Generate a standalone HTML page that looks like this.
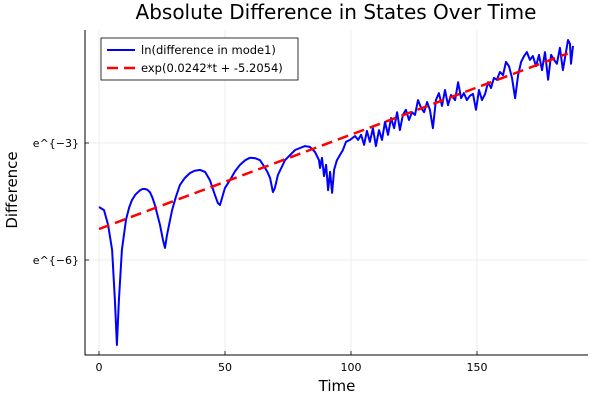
<!DOCTYPE html>
<html><head><meta charset="utf-8"><style>
html,body{margin:0;padding:0;background:#fff}
svg{display:block;font-family:"DejaVu Sans","Liberation Sans",sans-serif}
</style></head><body>
<svg id="chart" width="600" height="400">
<text x="336" y="19" text-anchor="middle" font-size="20" fill="#000">Absolute Difference in States Over Time</text>
<text x="337" y="391" text-anchor="middle" font-size="15">Time</text>
<text transform="translate(17,190) rotate(-90)" text-anchor="middle" font-size="15">Difference</text>
<g id="grid"></g><g id="axes"></g><g id="series"></g>
<g>
<rect x="101" y="38" width="197" height="42" fill="#fff" stroke="#000" stroke-width="0.8"/>
<line x1="107" y1="50" x2="135" y2="50" stroke="#0000ff" stroke-width="2"/>
<text x="141" y="54" font-size="11.5">ln(difference in mode1)</text>
<line x1="107" y1="68" x2="135" y2="68" stroke="#ff0000" stroke-width="2.5" stroke-dasharray="11,6"/>
<text x="141" y="72" font-size="11.5">exp(0.0242*t + -5.2054)</text>
</g>
</svg>
<script>
const xTicks=[0,50,100,150];
const yTicks=[-3,-6];
const yTickLabels=["e^{−3}","e^{−6}"];
const fitSlope=0.0242, fitIntercept=-5.2054, fitRange=[0,186];
const tVals=[0,2.0,3.6,5.2,6.3,7.1,7.9,9.1,10.7,12.0,13.1,14.5,16.3,17.3,18.3,19.2,20.2,21.2,22.2,24.2,25.4,26.2,27.0,29.0,30.5,32.1,34.0,36.1,38.0,40.1,42.1,44.0,44.9,46.0,47.2,48.0,48.8,50.0,52.0,54.0,56.0,58.0,59.9,62.0,63.9,65.9,66.9,67.9,69.0,69.8,71.0,73.8,77.8,81.7,83.7,85.7,87.3,87.7,88.5,89.3,90.1,90.9,91.7,92.5,93.3,94.4,95.6,96.8,98.0,99.6,101.6,102.8,104.0,105.2,106.3,107.5,108.7,109.9,111.1,112.3,113.5,114.7,115.9,117.1,118.3,119.4,120.6,121.8,123.0,124.2,125.4,126.6,127.8,129.0,130.2,131.3,132.5,133.7,134.9,136.1,137.3,138.5,139.7,141.3,142.5,143.7,144.8,146.0,147.2,148.4,149.6,150.8,152.0,153.2,154.4,155.6,156.7,157.9,159.1,160.3,161.5,162.7,163.9,165.1,166.3,167.5,168.7,169.8,171.0,172.2,173.4,174.6,175.8,177.0,178.2,179.4,180.6,181.7,182.9,184.1,185.3,186.1,186.9,187.3,188.1];
const logVals=[-4.64,-4.72,-5.10,-5.74,-7.03,-8.18,-7.03,-5.74,-4.97,-4.65,-4.46,-4.32,-4.21,-4.18,-4.18,-4.20,-4.26,-4.40,-4.59,-5.10,-5.49,-5.69,-5.36,-4.72,-4.38,-4.08,-3.90,-3.77,-3.71,-3.69,-3.74,-3.95,-4.12,-4.33,-4.54,-4.59,-4.41,-4.15,-3.95,-3.72,-3.56,-3.44,-3.38,-3.39,-3.44,-3.64,-3.75,-3.90,-4.26,-4.15,-3.82,-3.44,-3.18,-3.08,-3.10,-3.23,-3.44,-3.64,-3.38,-3.85,-3.56,-4.21,-3.74,-4.28,-3.69,-3.44,-3.31,-3.18,-2.97,-2.92,-2.82,-2.92,-2.79,-3.05,-2.69,-2.97,-2.62,-3.08,-2.67,-2.92,-2.46,-2.79,-2.36,-2.62,-2.21,-2.67,-2.28,-2.15,-2.41,-2.21,-2.28,-1.90,-2.10,-2.21,-1.95,-2.15,-2.62,-1.90,-1.72,-2.05,-1.64,-2.03,-1.77,-1.90,-1.44,-1.85,-1.72,-1.90,-1.79,-1.74,-2.15,-1.64,-1.90,-1.74,-1.44,-1.59,-1.33,-1.38,-1.18,-1.26,-0.92,-1.03,-1.33,-1.85,-1.26,-0.92,-0.77,-0.67,-0.87,-0.77,-1.03,-0.74,-1.13,-0.67,-1.38,-0.74,-0.87,-0.97,-0.56,-1.13,-0.67,-0.36,-0.46,-0.97,-0.51];
const NS="http://www.w3.org/2000/svg";
const L=85,R=588,T=30,B=355;
const sx=t=>99+t*2.52;
const sy=v=>143+(-3-v)*39;
function mk(tag,attrs,parent){const e=document.createElementNS(NS,tag);for(const k in attrs)e.setAttribute(k,attrs[k]);document.getElementById(parent).appendChild(e);return e;}
xTicks.forEach(t=>{
 const g=mk('line',{x1:sx(t),x2:sx(t),y1:T,y2:B,stroke:'#e6e6e6','stroke-width':0.7},'grid');
 
 
 const tk=mk('line',{x1:sx(t),x2:sx(t),y1:B,y2:B-4,stroke:'#000','stroke-width':0.8},'axes');
 
 
 const tx=mk('text',{x:sx(t),y:B+16,'text-anchor':'middle','font-size':11},'axes');
 tx.textContent=t;
 
 
});
yTicks.forEach((v,i)=>{
 const g=mk('line',{x1:L,x2:R,y1:sy(v),y2:sy(v),stroke:'#e6e6e6','stroke-width':0.7},'grid');
 
 
 const tk=mk('line',{x1:L,x2:L+4,y1:sy(v),y2:sy(v),stroke:'#000','stroke-width':0.8},'axes');
 
 
 const tx=mk('text',{x:L-6,y:sy(v)+4,'text-anchor':'end','font-size':11},'axes');
 tx.textContent=yTickLabels[i];
 
 
});
const ax=mk('path',{d:`M${L},${T}V${B}H${R}`,fill:'none',stroke:'#000','stroke-width':1},'axes');


const d=tVals.map((t,i)=>(i?'L':'M')+sx(t).toFixed(1)+','+sy(logVals[i]).toFixed(1)).join('');
const ln=mk('path',{d:d,fill:'none',stroke:'#0000ff','stroke-width':2,'stroke-linejoin':'round'},'series');


const f0=fitIntercept+fitSlope*fitRange[0], f1=fitIntercept+fitSlope*fitRange[1];
const fl=mk('line',{x1:sx(fitRange[0]),y1:sy(f0),x2:sx(fitRange[1]),y2:sy(f1),stroke:'#ff0000','stroke-width':2.5,'stroke-dasharray':'11,6'},'series');


</script>
</body></html>
